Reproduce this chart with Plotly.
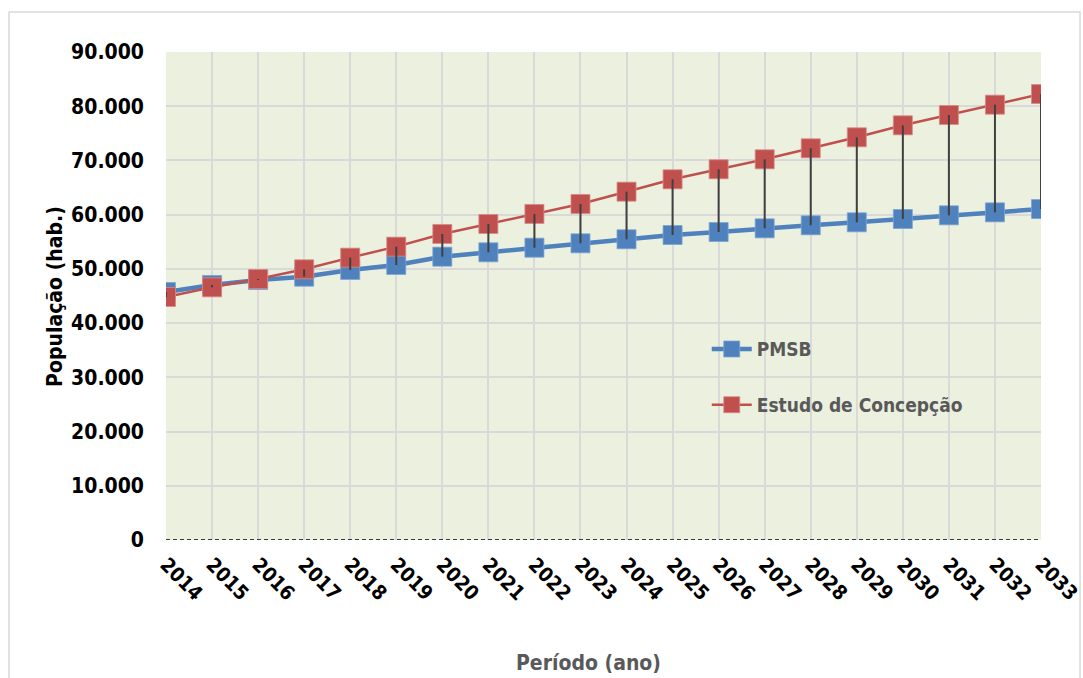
import plotly.graph_objects as go

# Projected population per year
anos = list(range(2014, 2034))
pmsb = [45740, 47030, 47950, 48560, 49800, 50720, 52250, 53060, 53910, 54720,
        55460, 56250, 56800, 57480, 58040, 58590, 59200, 59880, 60430, 61040]
estudo = [44820, 46600, 48140, 49920, 52070, 54100, 56440, 58280, 60130, 61970,
          64240, 66520, 68370, 70210, 72240, 74270, 76480, 78380, 80280, 82250]
y_ticks = [0, 10000, 20000, 30000, 40000, 50000, 60000, 70000, 80000, 90000]

AZUL = "#4F81BD"
VERMELHO = "#C0504D"
FONTE = "DejaVu Sans Condensed, Liberation Sans Narrow, Arial Narrow, sans-serif"

fig = go.Figure()

fig.add_trace(go.Scatter(
    x=anos, y=pmsb, name="PMSB", mode="lines+markers",
    line=dict(color=AZUL, width=4.5),
    marker=dict(symbol="square", size=19, color=AZUL,
                line=dict(color="#7FA3D3", width=0.8)),
    legendgroup="a",
))
fig.add_trace(go.Scatter(
    x=anos, y=estudo, name="Estudo de Concepção", mode="lines+markers",
    line=dict(color=VERMELHO, width=2.5),
    marker=dict(symbol="square", size=19, color=VERMELHO,
                line=dict(color="#D88A88", width=0.8)),
    legendgroup="b",
))

# High-low connectors between the two projections
hx, hy = [], []
for a, p, e in zip(anos, pmsb, estudo):
    hx += [a, a, None]
    hy += [p, e, None]
fig.add_trace(go.Scatter(
    x=hx, y=hy, mode="lines", showlegend=False, hoverinfo="skip",
    line=dict(color="#404040", width=2),
))

fig.update_layout(
    width=1083, height=678,
    margin=dict(l=166, r=42, t=52, b=138),
    paper_bgcolor="white",
    plot_bgcolor="#EBF0DF",
    separators=",.",
    showlegend=True,
    legend=dict(
        x=0.618, y=0.43, xanchor="left", yanchor="top",
        bgcolor="rgba(0,0,0,0)",
        font=dict(family=FONTE, size=19, color="#595959", weight="bold"),
        tracegroupgap=28,
        traceorder="grouped",
        itemwidth=40,
    ),
    xaxis=dict(
        range=[2014, 2033],
        tickmode="array", tickvals=anos, ticktext=[str(a) for a in anos],
        tickangle=45,
        tickfont=dict(family=FONTE, size=20, color="black", weight="bold"),
        showgrid=True, gridcolor="#D9D9D9", gridwidth=1.5,
        zeroline=False, showline=False, ticks="",
        ticklabelstandoff=8,
        automargin=False,
    ),
    yaxis=dict(
        range=[0, 90000],
        tickmode="array", tickvals=y_ticks,
        tickformat=",d",
        tickfont=dict(family=FONTE, size=21, color="black", weight="bold"),
        showgrid=True, gridcolor="#D9D9D9", gridwidth=1.5,
        zeroline=False, showline=False, ticks="",
        ticklabelstandoff=21,
        automargin=False,
    ),
    shapes=[
        # outer frame
        dict(type="rect", xref="paper", yref="paper",
             x0=-0.1794, x1=1.0446, y0=-0.31, y1=1.082,
             line=dict(color="#D9D9D9", width=1.5), layer="below"),
        # dashed baseline at zero
        dict(type="line", xref="paper", yref="y",
             x0=0, x1=1, y0=0, y1=0,
             line=dict(color="black", width=1.3, dash="4px,3px")),
    ],
    annotations=[
        dict(text="População (hab.)", xref="paper", yref="paper",
             x=-0.127, y=0.5, textangle=-90, showarrow=False,
             xanchor="center", yanchor="middle",
             font=dict(family=FONTE, size=21, color="black", weight="bold")),
        dict(text="Período (ano)", xref="paper", yref="paper",
             x=0.483, y=-0.252, showarrow=False,
             xanchor="center", yanchor="middle",
             font=dict(family=FONTE, size=21, color="#595959", weight="bold")),
    ],
)

fig.write_html("out.html")
